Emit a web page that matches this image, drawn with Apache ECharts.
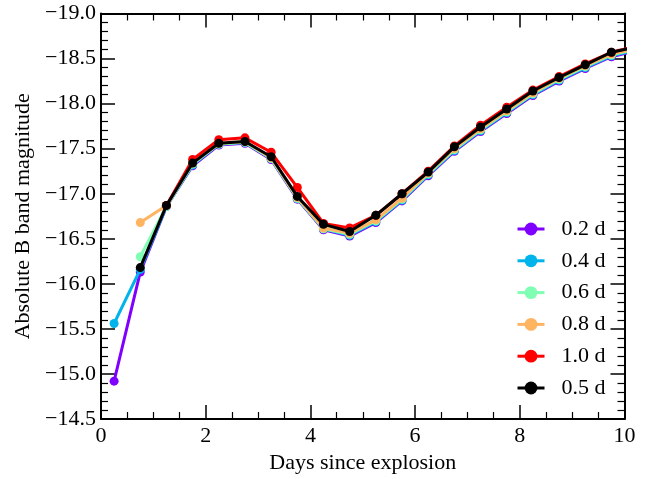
<!DOCTYPE html>
<html><head><meta charset="utf-8">
<script src="https://cdn.jsdelivr.net/npm/echarts@6/dist/echarts.min.js"></script>
<style>html,body{margin:0;padding:0;background:#fff}#c{width:651px;height:479px}</style>
</head><body><div id="c"></div>
<script>
const days = [0.25,0.75,1.25,1.75,2.25,2.75,3.25,3.75,4.25,4.75,5.25,5.75,6.25,6.75,7.25,7.75,8.25,8.75,9.25,9.75,10.25];
const mag02 = [-14.92,-16.13,-16.86,-17.31,-17.54,-17.56,-17.38,-16.94,-16.60,-16.53,-16.68,-16.92,-17.20,-17.47,-17.69,-17.89,-18.09,-18.25,-18.39,-18.52,-18.59];
const mag04 = [-15.56,-16.16,-16.86,-17.32,-17.55,-17.57,-17.39,-16.95,-16.61,-16.54,-16.69,-16.93,-17.21,-17.48,-17.70,-17.90,-18.10,-18.26,-18.40,-18.53,-18.60];
const mag06 = [null,-16.30,-16.86,-17.33,-17.55,-17.57,-17.39,-16.95,-16.61,-16.55,-16.70,-16.94,-17.22,-17.49,-17.71,-17.91,-18.11,-18.27,-18.41,-18.54,-18.61];
const mag08 = [null,-16.68,-16.87,-17.34,-17.56,-17.58,-17.40,-16.96,-16.62,-16.56,-16.71,-16.95,-17.23,-17.50,-17.72,-17.92,-18.12,-18.28,-18.42,-18.55,-18.61];
const mag10 = [null,null,-16.87,-17.38,-17.60,-17.62,-17.46,-17.07,-16.67,-16.62,-16.76,-17.00,-17.25,-17.53,-17.76,-17.96,-18.15,-18.30,-18.44,-18.57,-18.64];
const mag05 = [null,-16.18,-16.87,-17.34,-17.56,-17.58,-17.41,-16.97,-16.66,-16.58,-16.76,-17.00,-17.24,-17.52,-17.74,-17.94,-18.14,-18.29,-18.43,-18.57,-18.63];
const seriesNames = ['0.2 d','0.4 d','0.6 d','0.8 d','1.0 d','0.5 d'];
const seriesColors = ['#8000ff','#00b4eb','#80ffb4','#ffb462','#ff0000','#000000'];
const seriesData = [mag02,mag04,mag06,mag08,mag10,mag05];

const font = 'Liberation Serif, DejaVu Serif, serif';
const fs = 22;
const fmtY = v => (v < 0 ? '\u2212' : '') + Math.abs(v).toFixed(1);
const axisCommon = {
  axisLine:{show:true,onZero:false,lineStyle:{color:'#000',width:2}},
  axisTick:{show:true,inside:true,length:14,lineStyle:{color:'#000',width:1.5}},
  minorTick:{show:true,length:7,lineStyle:{color:'#000',width:1.2}},
  splitLine:{show:false}
};
const chart = echarts.init(document.getElementById('c'));
chart.setOption({
  animation:false,
  backgroundColor:'#fff',
  grid:{left:101,right:26.5,top:13.5,bottom:58.3,containLabel:false},
  legend:{
    orient:'vertical',left:511,top:213,itemWidth:27,itemHeight:16,itemGap:9.8,
    lineStyle:{width:3},
    textStyle:{fontFamily:font,fontSize:fs,color:'#000',padding:[0,0,0,12]},
    data:['0.2 d','0.4 d','0.6 d','0.8 d','1.0 d','0.5 d']
  },
  xAxis:[
    Object.assign({type:'value',min:0,max:10,interval:2,position:'bottom',
      name:'Days since explosion',nameLocation:'middle',nameGap:33,
      nameTextStyle:{fontFamily:font,fontSize:fs,color:'#000'},
      axisLabel:{fontFamily:font,fontSize:fs,color:'#000',margin:6},
      minorTick:Object.assign({},axisCommon.minorTick,{splitNumber:4})},
      {axisLine:axisCommon.axisLine,axisTick:axisCommon.axisTick,splitLine:axisCommon.splitLine}),
    Object.assign({type:'value',min:0,max:10,interval:2,position:'top',axisLabel:{show:false},
      minorTick:Object.assign({},axisCommon.minorTick,{splitNumber:4})},
      {axisLine:axisCommon.axisLine,axisTick:axisCommon.axisTick,splitLine:axisCommon.splitLine})
  ],
  yAxis:[
    Object.assign({type:'value',min:-19,max:-14.5,interval:0.5,inverse:true,position:'left',
      name:'Absolute B band magnitude',nameLocation:'middle',nameGap:65,nameRotate:90,
      nameTextStyle:{fontFamily:font,fontSize:fs,color:'#000'},
      axisLabel:{fontFamily:font,fontSize:fs,color:'#000',margin:5,formatter:fmtY},
      minorTick:Object.assign({},axisCommon.minorTick,{splitNumber:5})},
      {axisLine:axisCommon.axisLine,axisTick:axisCommon.axisTick,splitLine:axisCommon.splitLine}),
    Object.assign({type:'value',min:-19,max:-14.5,interval:0.5,inverse:true,position:'right',axisLabel:{show:false},
      minorTick:Object.assign({},axisCommon.minorTick,{splitNumber:5})},
      {axisLine:axisCommon.axisLine,axisTick:axisCommon.axisTick,splitLine:axisCommon.splitLine})
  ],
  series: seriesNames.map((n,i)=>({
    name:n,type:'line',xAxisIndex:0,yAxisIndex:0,
    data:days.map((d,j)=>[d,seriesData[i][j]]),
    symbol:'circle',symbolSize:9,showSymbol:true,connectNulls:false,clip:true,
    itemStyle:{color:seriesColors[i]},
    lineStyle:{color:seriesColors[i],width:3},
    z:2+i
  }))
});
</script></body></html>
